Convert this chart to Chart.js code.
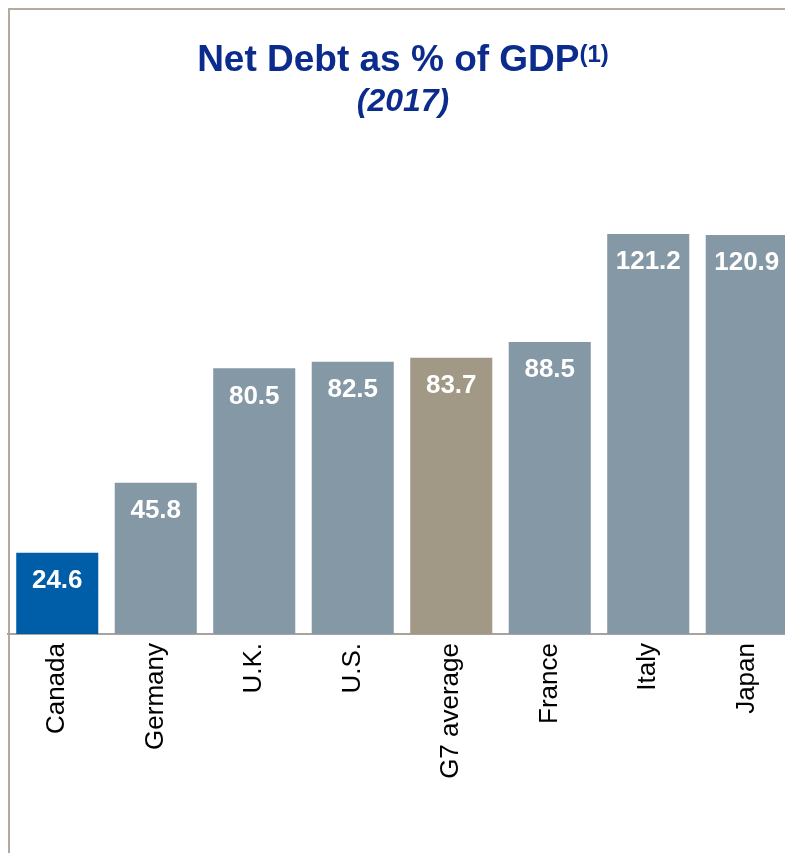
<!DOCTYPE html>
<html>
<head>
<meta charset="utf-8">
<script src="https://cdn.jsdelivr.net/npm/chart.js@4/dist/chart.umd.min.js"></script>
<style>
  html, body { margin: 0; padding: 0; background: #fff; overflow: hidden; }
  body { width: 785px; height: 853px; position: relative; font-family: "Liberation Sans", Arial, sans-serif; }
  #frame { position: absolute; left: 8px; top: 8px; right: -10px; bottom: -10px;
           border-top: 2px solid #B3AB9E; border-left: 2px solid #B3AB9E; }
  .title { position: absolute; left: 0; width: 806px; text-align: center; color: #0B2C8C; font-weight: bold; white-space: nowrap; }
  #t1 { top: 40px; font-size: 37px; line-height: 37px; }
  #t1 span { font-size: 24px; position: relative; top: -9px; }
  #t2 { top: 84px; font-size: 32px; line-height: 32px; font-style: italic; }
  #chart { position: absolute; left: 0; top: 0; }
</style>
</head>
<body>
<div id="frame"></div>
<canvas id="chart" width="796" height="853"></canvas>
<div class="title" id="t1">Net Debt as % of GDP<span>(1)</span></div>
<div class="title" id="t2">(2017)</div>
<script>
// Chart data
const countries = ['Canada', 'Germany', 'U.K.', 'U.S.', 'G7 average', 'France', 'Italy', 'Japan'];
const netDebt = [24.6, 45.8, 80.5, 82.5, 83.7, 88.5, 121.2, 120.9];

// Canada highlighted, G7 average in tan, rest grey
const barColors = countries.map(c => {
  if (c === 'Canada') return '#005EA8';
  if (c === 'G7 average') return '#A19886';
  return '#8498A5';
});

// White value labels inside top of each bar
const valueLabels = {
  id: 'valueLabels',
  afterDatasetsDraw(chart) {
    const ctx = chart.ctx;
    const meta = chart.getDatasetMeta(0);
    ctx.save();
    ctx.fillStyle = '#ffffff';
    ctx.font = 'bold 26px "Liberation Sans", Arial, sans-serif';
    ctx.textAlign = 'center';
    ctx.textBaseline = 'middle';
    meta.data.forEach((bar, i) => {
      ctx.fillText(netDebt[i].toFixed(1), bar.x, bar.y + 28);
    });
    ctx.restore();
  }
};

new Chart('chart', {
  type: 'bar',
  data: {
    labels: countries,
    datasets: [{
      data: netDebt,
      backgroundColor: barColors,
      borderWidth: 0,
      barPercentage: 0.833,
      categoryPercentage: 1
    }]
  },
  options: {
    responsive: false,
    animation: false,
    layout: { padding: { left: 8, top: 139, right: 0, bottom: 0 } },
    plugins: { legend: { display: false }, tooltip: { enabled: false } },
    scales: {
      y: { display: false, min: 0, max: 150 },
      x: {
        grid: { display: false },
        border: { color: '#A8A39C', width: 2 },
        ticks: {
          autoSkip: false,
          maxRotation: 90,
          minRotation: 90,
          padding: 1,
          color: '#000000',
          font: { family: '"Liberation Sans", Arial, sans-serif', size: 26 }
        },
        afterFit(scale) { scale.height = 219; }
      }
    }
  },
  plugins: [valueLabels]
});
</script>
</body>
</html>
